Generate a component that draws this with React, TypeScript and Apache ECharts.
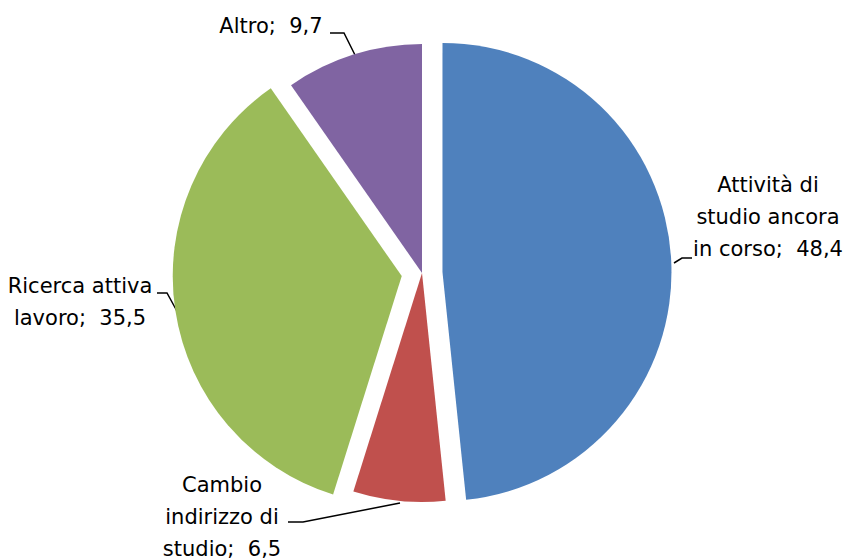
import React, { useEffect, useRef } from "react";
import * as echarts from "echarts";

const categories = [
  "Attività di\nstudio ancora\nin corso",
  "Cambio\nindirizzo di\nstudio",
  "Ricerca attiva\nlavoro",
  "Altro",
];
const values = [48.4, 6.5, 35.5, 9.7];
const exploded = [true, false, true, false];
const colors = ["#4F81BD", "#C0504D", "#9BBB59", "#8064A2"];

// label placement (layout only)
const labelPos = [
  { x: 768, y: 217, line: [[674, 263], [682, 258], [692, 258]] },
  { x: 222, y: 517, line: [[400, 503], [303, 522], [288, 522]] },
  { x: 80, y: 302, line: [[178, 313], [167, 293], [157, 293]] },
  { x: 271, y: 26, line: [[355, 55], [344, 33], [330, 33]] },
];

const fmt = (p: any) =>
  `${p.name};  ${Number(p.value).toFixed(1).replace(".", ",")}`;

export default function App() {
  const ref = useRef<HTMLDivElement>(null);
  useEffect(() => {
    if (!ref.current) return;
    const chart = echarts.init(ref.current, null, { renderer: "svg" });
    const common = {
      type: "pie",
      center: [422, 273],
      radius: 229,
      startAngle: 90,
      clockwise: true,
      emphasis: { disabled: true },
    };
    chart.setOption({
      animation: false,
      backgroundColor: "#ffffff",
      series: [
        {
          ...common,
          name: "slices",
          selectedMode: "multiple",
          selectedOffset: 20.5,
          itemStyle: { borderWidth: 0 },
          label: { show: false },
          labelLine: { show: false },
          data: categories.map((name, i) => ({
            name,
            value: values[i],
            selected: exploded[i],
            itemStyle: { color: colors[i] },
          })),
        },
        {
          ...common,
          name: "labels",
          silent: true,
          selectedMode: false,
          avoidLabelOverlap: false,
          itemStyle: { color: "rgba(0,0,0,0)", borderWidth: 0 },
          label: {
            show: true,
            position: "outside",
            color: "#000000",
            fontFamily: "DejaVu Sans",
            fontSize: 21,
            lineHeight: 32,
            align: "center",
            formatter: fmt,
          },
          labelLine: {
            show: true,
            length: 10,
            length2: 10,
            lineStyle: { color: "#000000", width: 1.5 },
          },
          labelLayout: (p: any) => {
            const lp = labelPos[p.dataIndex];
            return {
              x: lp.x,
              y: lp.y,
              align: "center",
              verticalAlign: "middle",
              labelLinePoints: lp.line,
            };
          },
          data: categories.map((name, i) => ({ name, value: values[i] })),
        },
      ],
    });
    return () => chart.dispose();
  }, []);
  return (
    <div
      ref={ref}
      style={{ position: "fixed", left: 0, top: 0, width: 849, height: 559 }}
    />
  );
}
